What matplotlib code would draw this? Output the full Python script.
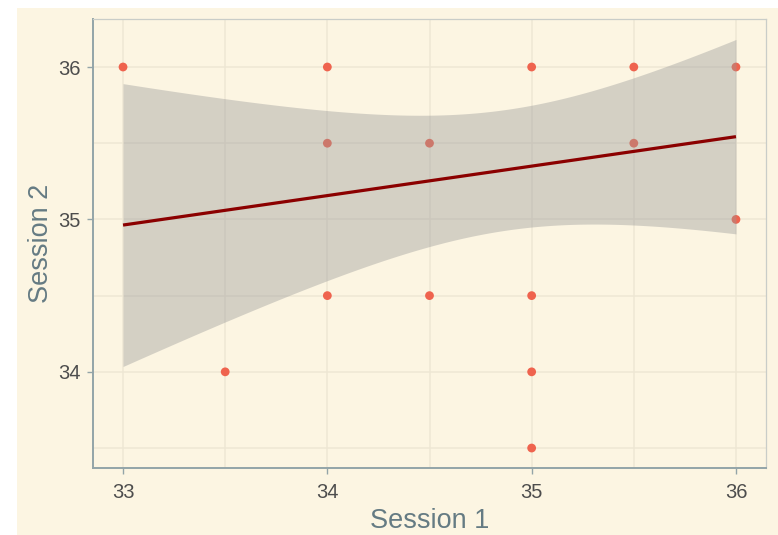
import numpy as np
import matplotlib
matplotlib.use("Agg")
import matplotlib.pyplot as plt
from matplotlib.patches import Rectangle

# Scores from the two sessions
session1 = [33, 33.5, 34, 34, 34, 34.5, 34.5, 35, 35, 35, 35, 35.5, 35.5, 36, 36]
session2 = [36, 34, 36, 35.5, 34.5, 35.5, 34.5, 36, 34.5, 34, 33.5, 36, 35.5, 36, 35]

# Linear fit summary: fitted values at the ends of the x range and
# the 95% confidence band shape (centre, narrowest half-width, half-width at 33)
fit_x_ends = [33, 36]
fit_y_ends = [34.963, 35.543]
band_center_x = 34.88
band_min_halfwidth = 0.396
band_halfwidth_at_start = 0.928

x_ticks = [33, 34, 35, 36]
y_ticks = [34, 35, 36]

BG = "#FCF5E2"
GRID = "#EEE7D4"
AXIS_LINE = "#93A4A8"
TITLE_COL = "#657B83"
TICK_COL = "#4D4D4D"
POINT_COL = "#EF634E"

plt.rcParams["font.family"] = ["Liberation Sans", "DejaVu Sans"]

fig = plt.figure(figsize=(7.78, 5.35), dpi=100)
fig.patch.set_facecolor("white")
fig.patches.append(Rectangle((17 / 778, 0), 1, 1 - 8 / 535, transform=fig.transFigure,
                             facecolor=BG, edgecolor="none", zorder=-10))

ax = fig.add_axes([93 / 778, 1 - 468 / 535, (766 - 93) / 778, (468 - 19) / 535])
ax.set_facecolor(BG)

# grid (major and minor)
for v in [33, 33.5, 34, 34.5, 35, 35.5, 36]:
    ax.axvline(v, color=GRID, lw=1.1, zorder=0)
for v in [33.5, 34, 34.5, 35, 35.5, 36]:
    ax.axhline(v, color=GRID, lw=1.1, zorder=0)

ax.scatter(session1, session2, s=40, color=POINT_COL, edgecolors="none", zorder=2)

# regression line and confidence band
xs = np.linspace(fit_x_ends[0], fit_x_ends[1], 200)
slope = (fit_y_ends[1] - fit_y_ends[0]) / (fit_x_ends[1] - fit_x_ends[0])
yfit = fit_y_ends[0] + slope * (xs - fit_x_ends[0])
c = band_min_halfwidth ** 2
b = (band_halfwidth_at_start ** 2 - c) / (fit_x_ends[0] - band_center_x) ** 2
hw = np.sqrt(c + b * (xs - band_center_x) ** 2)
ax.fill_between(xs, yfit - hw, yfit + hw, color="#999999", alpha=0.4, lw=0, zorder=3)
ax.plot(xs, yfit, color="#8B0000", lw=2.3, zorder=4, solid_capstyle="butt")

ax.set_xlim(32.853, 36.147)
ax.set_ylim(33.369, 36.315)
ax.set_xticks(x_ticks)
ax.set_yticks(y_ticks)
ax.set_xticklabels([str(t) for t in x_ticks])
ax.set_yticklabels([str(t) for t in y_ticks])
ax.tick_params(axis="both", colors=AXIS_LINE, labelcolor=TICK_COL, labelsize=14.5,
               length=4, width=1.0)
ax.tick_params(axis="x", pad=7)
ax.tick_params(axis="y", pad=5)

for side in ["left", "bottom"]:
    ax.spines[side].set_color(AXIS_LINE)
    ax.spines[side].set_linewidth(1.4)
for side in ["top", "right"]:
    ax.spines[side].set_color("#C9CDC8")
    ax.spines[side].set_linewidth(0.9)

ax.set_xlabel("Session 1", fontsize=19.5, color=TITLE_COL, labelpad=4)
ax.set_ylabel("Session 2", fontsize=19.5, color=TITLE_COL, labelpad=3)

fig.savefig("out.png", dpi=100, facecolor=fig.get_facecolor())
